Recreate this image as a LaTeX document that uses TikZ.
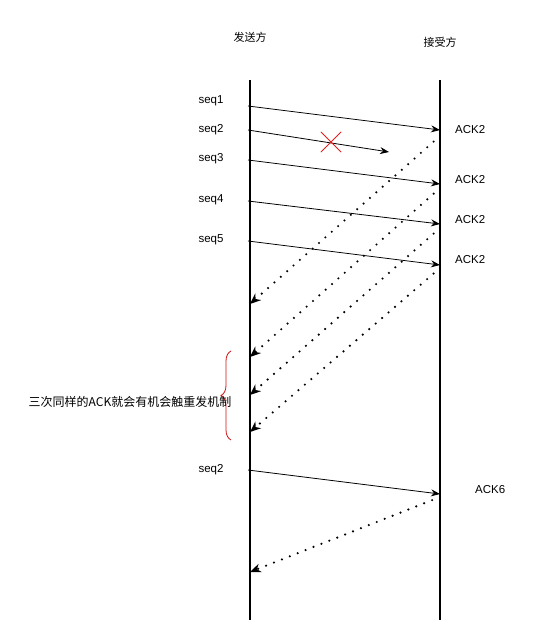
\documentclass[tikz,border=0pt]{standalone}
\usepackage{fontspec}
\setmainfont{Liberation Sans}
\newfontfamily\cjk{Noto Sans CJK SC}
\usetikzlibrary{arrows.meta,decorations.pathreplacing}
\definecolor{bracered}{HTML}{D01010}
\definecolor{crossred}{HTML}{E02020}
\tikzset{
  lifeline/.style = {draw=black, line width=1.6pt},
  seqlabel/.style = {font=\fontsize{11.5}{13}\selectfont, inner sep=0pt},
  acklabel/.style = {font=\fontsize{11.5}{13}\selectfont, inner sep=0pt, anchor=west},
  party/.style    = {font=\cjk\fontsize{11}{13}\selectfont, inner sep=0pt},
  send/.style     = {-{Stealth[length=9pt,width=7pt,inset=3pt]}, draw=black, line width=0.8pt},
  ackback/.style  = {-{Stealth[length=11pt,width=9pt,inset=3.5pt,line width=0pt]}, draw=black, line width=2.4pt,
                     dash pattern=on 0pt off 8.5pt, line cap=round},
}

\begin{document}
\begin{tikzpicture}[x=1pt, y=-1pt]
  \useasboundingbox (0,0) rectangle (536,642);

  % parties and lifelines
  \node[party] (sender) at (250,37) {发送方};
  \node[party] (receiver) at (440,42) {接受方};
  \coordinate (stop) at (250,80);  \coordinate (sbot) at (250,620);
  \coordinate (rtop) at (440,80);  \coordinate (rbot) at (440,620);
  \draw[lifeline] (stop) -- (sbot);
  \draw[lifeline] (rtop) -- (rbot);

  % sequence labels
  \node[seqlabel] (q1) at (211,101) {seq1};
  \node[seqlabel] (q2) at (211,130) {seq2};
  \node[seqlabel] (q3) at (211,159) {seq3};
  \node[seqlabel] (q4) at (211,200) {seq4};
  \node[seqlabel] (q5) at (211,240) {seq5};
  \node[seqlabel] (q6) at (211,470) {seq2};

  % ack labels
  \node[acklabel] (a1) at (455,130) {ACK2};
  \node[acklabel] (a3) at (455,180) {ACK2};
  \node[acklabel] (a4) at (455,220) {ACK2};
  \node[acklabel] (a5) at (455,260) {ACK2};
  \node[acklabel] (a6) at (475,490) {ACK6};

  % send points on sender line
  \coordinate (s1) at (248,106);  \coordinate (s2) at (248,130);
  \coordinate (s3) at (248,160);  \coordinate (s4) at (248,201);
  \coordinate (s5) at (248,241);  \coordinate (s6) at (248,470);
  % arrival points on receiver line
  \coordinate (r1) at (440,130);  \coordinate (lost) at (389,152);
  \coordinate (r3) at (440,184);  \coordinate (r4) at (440,224);
  \coordinate (r5) at (440,265);  \coordinate (r6) at (440,494);

  \draw[send] (s1) -- (r1);
  \draw[send] (s2) -- (lost);
  \draw[send] (s3) -- (r3);
  \draw[send] (s4) -- (r4);
  \draw[send] (s5) -- (r5);
  \draw[send] (s6) -- (r6);

  % lost packet
  \node[inner sep=0pt, minimum size=20pt] (cross) at (331,142) {};
  \draw[crossred, line width=0.8pt] (cross.north west) -- (cross.south east)
        (cross.north east) -- (cross.south west);

  % acks going back
  \coordinate (b1) at (440,136);  \coordinate (e1) at (250,304);
  \coordinate (b3) at (440,188);  \coordinate (e3) at (250,357);
  \coordinate (b4) at (440,228);  \coordinate (e4) at (250,395);
  \coordinate (b5) at (440,268);  \coordinate (e5) at (250,432);
  \coordinate (b6) at (440,497);  \coordinate (e6) at (250,572);
  \draw[ackback] (b1) -- (e1);
  \draw[ackback] (b3) -- (e3);
  \draw[ackback] (b4) -- (e4);
  \draw[ackback] (b5) -- (e5);
  \draw[ackback] (b6) -- (e6);

  % brace and note
  \coordinate (brlow) at (231,440);  \coordinate (brhigh) at (231,351);
  \draw[bracered, line width=0.8pt, decorate, decoration={brace, amplitude=10pt}] (brlow) -- (brhigh);
  \node[font=\cjk\fontsize{12}{14}\selectfont, inner sep=0pt] (note) at (130,402)
       {三次同样的ACK就会有机会触重发机制};
\end{tikzpicture}
\end{document}
